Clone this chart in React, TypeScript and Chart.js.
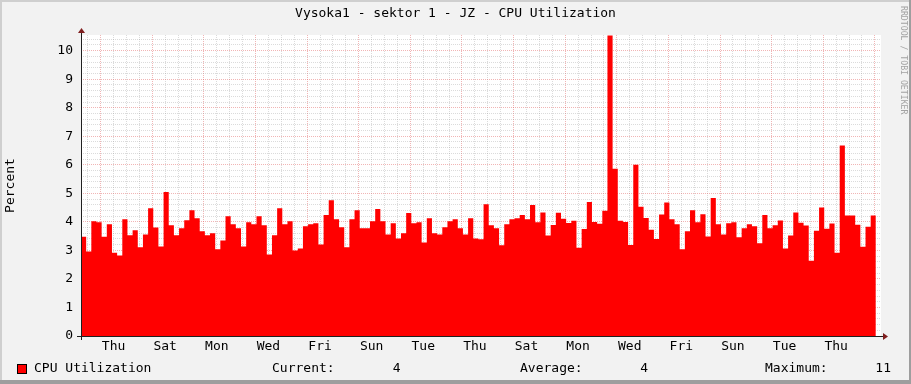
import React, { useEffect, useRef } from 'react';
import { Chart, registerables } from 'chart.js';

Chart.register(...registerables);

const TITLE = 'Vysoka1 - sektor 1 - JZ - CPU Utilization';
const SERIES_NAME = 'CPU Utilization';
const Y_TITLE = 'Percent';
const WATERMARK = 'RRDTOOL / TOBI OETIKER';

// one value per 4.8 h step (0.2 day)
const cpuValues = [
  3.48, 2.96, 4.02, 3.99, 3.48, 3.92, 2.92, 2.82, 4.09, 3.53,
  3.71, 3.11, 3.56, 4.48, 3.80, 3.14, 5.05, 3.88, 3.53, 3.78,
  4.06, 4.41, 4.13, 3.67, 3.53, 3.60, 3.04, 3.35, 4.20, 3.92,
  3.78, 3.14, 3.99, 3.92, 4.20, 3.88, 2.86, 3.53, 4.48, 3.92,
  4.02, 3.00, 3.07, 3.85, 3.92, 3.95, 3.21, 4.24, 4.76, 4.09,
  3.81, 3.11, 4.09, 4.41, 3.78, 3.78, 4.02, 4.45, 4.02, 3.56,
  3.95, 3.42, 3.60, 4.31, 3.95, 3.99, 3.28, 4.13, 3.60, 3.56,
  3.81, 4.02, 4.09, 3.78, 3.56, 4.13, 3.42, 3.39, 4.62, 3.88,
  3.78, 3.18, 3.92, 4.09, 4.13, 4.24, 4.09, 4.59, 3.99, 4.33,
  3.52, 3.89, 4.32, 4.11, 3.96, 4.04, 3.09, 3.75, 4.70, 4.00,
  3.93, 4.39, 10.53, 5.86, 4.04, 4.00, 3.19, 6.00, 4.53, 4.14,
  3.72, 3.40, 4.26, 4.68, 4.09, 3.92, 3.04, 3.67, 4.41, 3.99,
  4.27, 3.49, 4.84, 3.92, 3.56, 3.95, 3.99, 3.46, 3.78, 3.92,
  3.85, 3.25, 4.24, 3.78, 3.88, 4.05, 3.07, 3.52, 4.33, 3.97,
  3.87, 2.64, 3.69, 4.50, 3.76, 3.94, 2.92, 6.68, 4.22, 4.22,
  3.90, 3.13, 3.83, 4.22,
];

const dayLabels = ['Thu', 'Sat', 'Mon', 'Wed', 'Fri', 'Sun', 'Tue', 'Thu', 'Sat', 'Mon', 'Wed', 'Fri', 'Sun', 'Tue', 'Thu'];

const STEP_DAYS = 0.2;
const TOTAL_STEPS = 155;
const FIRST_MIDNIGHT = 0.763; // days after the first sample
const Y_MAX = 10.55;
const Y_MINOR = 0.2;

const FONT = 'DejaVu Sans Mono';

const current = cpuValues[cpuValues.length - 1];
const average = cpuValues.reduce((a, b) => a + b, 0) / cpuValues.length;
const maximum = Math.max(...cpuValues);

const MINOR_GRID = 'rgba(143,143,143,0.32)';
const MAJOR_GRID = 'rgba(222,79,79,0.42)';

function xTickIndex(v: number) {
  return Math.round((v - FIRST_MIDNIGHT) / 0.5);
}

const decorPlugin = {
  id: 'rrdDecor',
  beforeDraw(chart: any) {
    const { ctx, width, height, chartArea } = chart;
    ctx.save();
    ctx.fillStyle = '#F2F2F2';
    ctx.fillRect(0, 0, width, height);
    ctx.fillStyle = '#CFCFCF';
    ctx.fillRect(0, 0, width, 2);
    ctx.fillRect(0, 0, 2, height);
    ctx.fillStyle = '#9E9E9E';
    ctx.fillRect(0, height - 4, width, 4);
    ctx.fillRect(width - 2, 0, 2, height);
    ctx.fillStyle = '#FFFFFF';
    ctx.fillRect(chartArea.left, chartArea.top, chartArea.right - chartArea.left, chartArea.bottom - chartArea.top);
    ctx.restore();
  },
  afterDraw(chart: any) {
    const { ctx, width, chartArea } = chart;
    const L = chartArea.left, R = chartArea.right, T = chartArea.top, B = chartArea.bottom;
    ctx.save();
    // axes
    ctx.strokeStyle = '#1F1F1F';
    ctx.lineWidth = 1;
    ctx.beginPath();
    ctx.moveTo(L - 4, B + 0.5);
    ctx.lineTo(R + 4, B + 0.5);
    ctx.moveTo(L + 0.5, B + 4);
    ctx.lineTo(L + 0.5, T - 4);
    ctx.stroke();
    // arrows
    ctx.fillStyle = '#801F1F';
    ctx.beginPath();
    ctx.moveTo(R + 2, B - 3);
    ctx.lineTo(R + 2, B + 4);
    ctx.lineTo(R + 7, B + 0.5);
    ctx.closePath();
    ctx.fill();
    ctx.beginPath();
    ctx.moveTo(L - 3, T - 2);
    ctx.lineTo(L + 4, T - 2);
    ctx.lineTo(L + 0.5, T - 7);
    ctx.closePath();
    ctx.fill();

    // title
    ctx.fillStyle = '#000';
    ctx.font = `13px "${FONT}"`;
    ctx.textAlign = 'center';
    ctx.textBaseline = 'middle';
    ctx.fillText(TITLE, width / 2, 14);

    // legend row
    const ly = 369;
    ctx.fillStyle = '#FF0000';
    ctx.fillRect(17, 364, 10, 10);
    ctx.strokeStyle = '#000';
    ctx.strokeRect(17.5, 364.5, 9, 9);
    ctx.fillStyle = '#000';
    ctx.textAlign = 'left';
    ctx.fillText(SERIES_NAME, 34, ly);
    ctx.fillText('Current:', 272, ly);
    ctx.fillText('Average:', 520, ly);
    ctx.fillText('Maximum:', 765, ly);
    ctx.textAlign = 'right';
    ctx.fillText(current.toFixed(0), 400.5, ly);
    ctx.fillText(average.toFixed(0), 648, ly);
    ctx.fillText(maximum.toFixed(0), 891, ly);

    // watermark
    ctx.save();
    ctx.translate(903, 6);
    ctx.rotate(Math.PI / 2);
    ctx.fillStyle = '#A3A3A3';
    ctx.font = `8.2px "${FONT}"`;
    ctx.textAlign = 'left';
    ctx.textBaseline = 'middle';
    ctx.fillText(WATERMARK, 0, 0);
    ctx.restore();

    ctx.restore();
  },
};

export default function App() {
  const canvasRef = useRef<HTMLCanvasElement | null>(null);

  useEffect(() => {
    const canvas = canvasRef.current;
    if (!canvas) return;

    const points: { x: number; y: number }[] = [];
    cpuValues.forEach((v, i) => {
      points.push({ x: i * STEP_DAYS, y: v });
      points.push({ x: (i + 1) * STEP_DAYS, y: v });
    });

    const chart = new Chart(canvas, {
      type: 'line',
      data: {
        datasets: [
          {
            label: SERIES_NAME,
            data: points,
            borderWidth: 0,
            borderColor: '#FF0000',
            backgroundColor: '#FF0000',
            pointRadius: 0,
            fill: 'origin',
            tension: 0,
          },
        ],
      },
      plugins: [decorPlugin],
      options: {
        animation: false,
        responsive: false,
        devicePixelRatio: 1,
        layout: { padding: { left: 0, top: 35, right: 30, bottom: 0 } },
        plugins: {
          legend: { display: false },
          title: { display: false },
          tooltip: { enabled: false },
        },
        scales: {
          x: {
            type: 'linear',
            z: 1,
            min: 0,
            max: TOTAL_STEPS * STEP_DAYS,
            afterBuildTicks: (scale: any) => {
              const ticks = [];
              for (let k = -1; FIRST_MIDNIGHT + 0.5 * k <= TOTAL_STEPS * STEP_DAYS; k++) {
                ticks.push({ value: FIRST_MIDNIGHT + 0.5 * k });
              }
              scale.ticks = ticks;
            },
            afterFit: (scale: any) => {
              scale.height = 48;
            },
            grid: {
              drawTicks: false,
              lineWidth: 1,
              color: (c: any) => {
                const k = xTickIndex(c.tick ? c.tick.value : 0);
                return k >= 0 && k % 4 === 0 ? MAJOR_GRID : MINOR_GRID;
              },
            },
            border: { display: false, dash: [1, 1] },
            ticks: {
              autoSkip: false,
              maxRotation: 0,
              minRotation: 0,
              padding: 3,
              color: '#000',
              font: { family: FONT, size: 13 },
              callback: (value: any) => {
                const k = xTickIndex(Number(value));
                if (k >= 1 && (k - 1) % 4 === 0) {
                  return dayLabels[(k - 1) / 4] ?? '';
                }
                return '';
              },
            },
          },
          y: {
            type: 'linear',
            z: 1,
            min: 0,
            max: Y_MAX,
            afterBuildTicks: (scale: any) => {
              const ticks = [];
              for (let i = 0; i * Y_MINOR <= Y_MAX + 1e-9; i++) {
                ticks.push({ value: Math.round(i * Y_MINOR * 10) / 10 });
              }
              scale.ticks = ticks;
            },
            afterFit: (scale: any) => {
              scale.width = 81;
            },
            grid: {
              drawTicks: false,
              lineWidth: 1,
              color: (c: any) => {
                const v = c.tick ? c.tick.value : 0;
                return Math.abs(v - Math.round(v)) < 1e-6 ? MAJOR_GRID : MINOR_GRID;
              },
            },
            border: { display: false, dash: [1, 1] },
            title: {
              display: true,
              text: Y_TITLE,
              color: '#000',
              font: { family: FONT, size: 13 },
              padding: { top: 3, bottom: 0 },
            },
            ticks: {
              autoSkip: false,
              padding: 8,
              color: '#000',
              font: { family: FONT, size: 13 },
              callback: (value: any) => {
                const v = Number(value);
                return Math.abs(v - Math.round(v)) < 1e-6 ? String(Math.round(v)) : '';
              },
            },
          },
        },
      },
    });

    return () => chart.destroy();
  }, []);

  return (
    <div style={{ position: 'absolute', left: 0, top: 0, width: 911, height: 384 }}>
      <canvas ref={canvasRef} width={911} height={384} />
    </div>
  );
}
